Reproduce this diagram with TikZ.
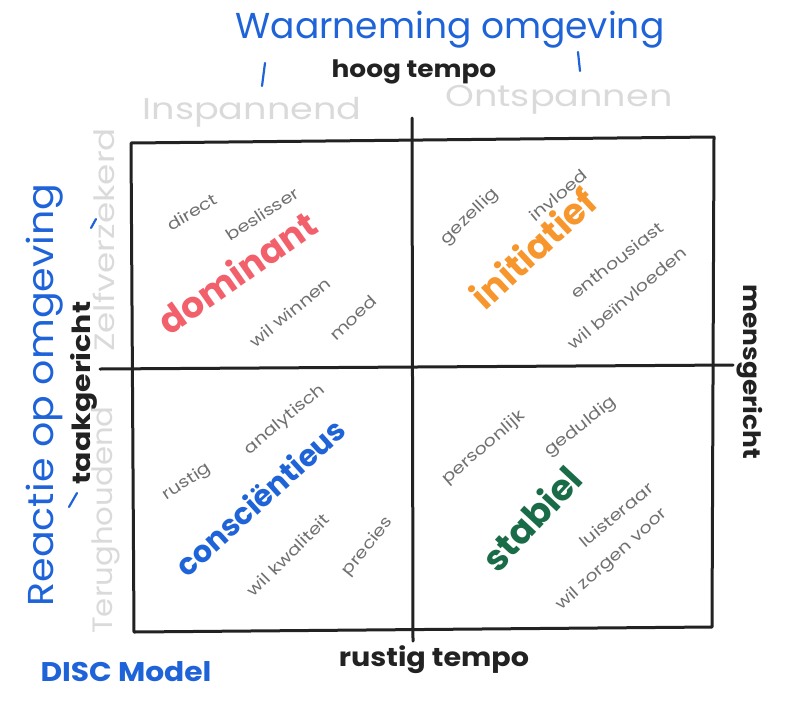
\documentclass[tikz,border=0pt]{standalone}
\usepackage{fontspec}
\setmainfont{Poppins}
\newfontfamily\wordfont[FakeStretch=1.2]{Poppins}
\newfontfamily\widefont[FakeStretch=1.1]{Poppins}
\newfontfamily\ghostfont[FakeStretch=1.22]{Poppins}
\definecolor{penblue}{HTML}{1F63D8}
\definecolor{penred}{HTML}{F2606C}
\definecolor{penorange}{HTML}{F7962C}
\definecolor{pengreen}{HTML}{1A6B48}
\definecolor{penblack}{HTML}{222222}
\definecolor{pengray}{HTML}{707070}
\definecolor{penlight}{HTML}{DADADA}
\tikzset{
  gridline/.style={draw=penblack, line width=3pt, line cap=round, line join=round},
  word/.style={text=pengray, font=\wordfont\fontsize{16}{16}\selectfont, inner sep=0pt},
  big/.style={inner sep=0pt},
  axis/.style={text=penblack, inner sep=0pt},
  title/.style={text=penblue, inner sep=0pt},
  ghost/.style={text=penlight, inner sep=0pt},
  tick/.style={draw=penblue, line width=2.2pt, line cap=round},
}
\begin{document}
\begin{tikzpicture}[x=1pt,y=-1pt]
\useasboundingbox (0,0) rectangle (800,718);
% grid
\draw[gridline] (131,143) -- (714,137) -- (712,627) -- (134,632) -- cycle;
\draw[gridline] (412,118) -- (413,641);
\draw[gridline] (100,369) -- (733,365);
% titles
\node[title, font=\fontsize{36}{36}\selectfont] (wo) at (450,30) {Waarneming omgeving};
\draw[tick] (265,63) -- (262,86);
\draw[tick] (578,52) -- (580,71);
\node[axis, font=\widefont\bfseries\fontsize{24}{24}\selectfont] (hoog) at (414,72) {hoog tempo};
\node[ghost, font=\ghostfont\fontsize{30}{30}\selectfont] (insp) at (252,112) {Inspannend};
\node[ghost, font=\ghostfont\fontsize{30}{30}\selectfont] (ontsp) at (559,100) {Ontspannen};
\node[title, rotate=90, font=\widefont\fontsize{36}{36}\selectfont] (reactie) at (45,395) {Reactie op omgeving};
\draw[tick] (69,507) -- (77,493);
\draw[tick] (91,228) -- (96,219);
\node[axis, rotate=90, font=\wordfont\bfseries\fontsize{25}{25}\selectfont] (taak) at (84,393) {taakgericht};
\node[ghost, rotate=90, font=\ghostfont\fontsize{28}{28}\selectfont] (zelf) at (104,240) {Zelfverzekerd};
\node[ghost, rotate=90, font=\widefont\fontsize{28}{28}\selectfont] (terug) at (106,520) {Terughoudend};
\node[axis, rotate=-90, font=\widefont\bfseries\fontsize{24}{24}\selectfont] (mens) at (750,372) {mensgericht};
\node[axis, font=\widefont\bfseries\fontsize{26}{26}\selectfont] (rustig) at (434,660) {rustig tempo};
\node[title, font=\widefont\bfseries\fontsize{27}{27}\selectfont] (disc) at (126,672) {DISC Model};
% top-left
\node[word, rotate=30] (direct) at (192,212) {direct};
\node[word, rotate=33] (beslisser) at (262,214) {beslisser};
\node[big, text=penred, font=\bfseries\fontsize{36}{36}\selectfont, rotate=35] (dominant) at (237,272) {dominant};
\node[word, rotate=39] (winnen) at (290,312) {wil winnen};
\node[word, rotate=43] (moed) at (353,318) {moed};
% top-right
\node[word, rotate=44] (gezellig) at (470,217) {gezellig};
\node[word, rotate=40] (invloed) at (558,195) {invloed};
\node[big, text=penorange, font=\bfseries\fontsize{36}{36}\selectfont, rotate=43] (initiatief) at (533,248) {initiatief};
\node[word, rotate=38] (enth) at (617,260) {enthousiast};
\node[word, rotate=40] (beinv) at (627,298) {wil beïnvloeden};
% bottom-left
\node[word, rotate=33] (rustigw) at (187,482) {rustig};
\node[word, rotate=40] (analytisch) at (285,420) {analytisch};
\node[big, text=penblue, font=\bfseries\fontsize{30}{30}\selectfont, rotate=42] (consc) at (260,497) {consciëntieus};
\node[word, rotate=45] (kwal) at (288,555) {wil kwaliteit};
\node[word, rotate=51] (precies) at (368,547) {precies};
% bottom-right
\node[word, rotate=41] (persoonlijk) at (484,448) {persoonlijk};
\node[word, rotate=38] (geduldig) at (581,427) {geduldig};
\node[big, text=pengreen, font=\bfseries\fontsize{36}{36}\selectfont, rotate=47] (stabiel) at (531,518) {stabiel};
\node[word, rotate=40] (luisteraar) at (616,515) {luisteraar};
\node[word, rotate=42] (zorgen) at (612,560) {wil zorgen voor};
\end{tikzpicture}
\end{document}
